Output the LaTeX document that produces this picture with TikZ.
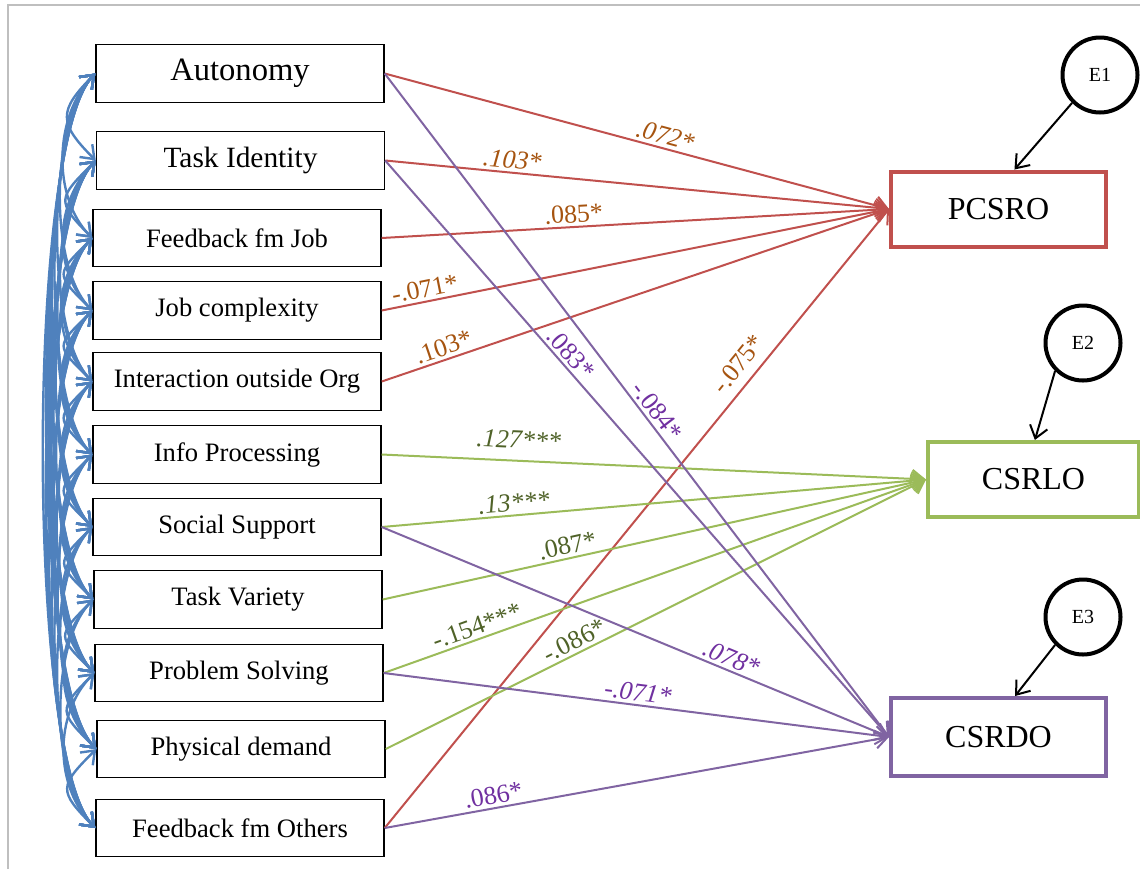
\documentclass[tikz,border=0pt]{standalone}
\usepackage{fontspec}
\setmainfont{Liberation Serif}
\usetikzlibrary{arrows.meta, positioning}
\definecolor{pathred}{RGB}{192, 80, 77}
\definecolor{pathgreen}{RGB}{155, 187, 89}
\definecolor{pathpurple}{RGB}{128, 100, 162}
\definecolor{covblue}{RGB}{79, 129, 189}
\definecolor{labred}{RGB}{166, 84, 16}
\definecolor{labgreen}{RGB}{79, 98, 40}
\definecolor{labpurple}{RGB}{112, 48, 160}
\definecolor{framegray}{RGB}{191, 191, 191}

\begin{document}
\begin{tikzpicture}[x=0.5pt, y=0.5pt,
    var/.style={draw, line width=0.7pt, minimum width=144pt, minimum height=28.75pt, inner sep=0pt, font=\fontsize{13.3}{16}\selectfont},
    dv/.style={draw, line width=2pt, minimum width=105.5pt, minimum height=37.5pt, inner sep=0pt, font=\fontsize{16}{19}\selectfont},
    err/.style={draw, circle, line width=2pt, minimum size=37.5pt, inner sep=0pt, font=\fontsize{10}{12}\selectfont},
    barb/.style={-{Straight Barb[length=6pt, width=9pt]}},
    redpath/.style={barb, draw=pathred, line width=1pt},
    greenpath/.style={barb, draw=pathgreen, line width=1pt},
    purplepath/.style={barb, draw=pathpurple, line width=1pt},
    cov/.style={{Straight Barb[length=6pt, width=9pt]}-{Straight Barb[length=6pt, width=9pt]}, draw=covblue, line width=1.2pt},
    lab/.style={sloped, above, inner sep=1.5pt, font=\fontsize{13}{15}\selectfont},
    labit/.style={lab, font=\fontsize{13}{15}\selectfont\itshape}]

    \useasboundingbox (0,0) rectangle (1140,-869);

    % Frame
    \draw[framegray, line width=1pt] (8,-869) -- (8,-5) -- (1140,-5);

    % Job characteristics
    \node[var, font=\fontsize{16.3}{19}\selectfont] (v1) at (240,-73.5) {Autonomy};
    \node[var, font=\fontsize{14.7}{17}\selectfont] (v2) at (240.5,-160.5) {Task Identity};
    \node[var] (v3) at (237,-238) {Feedback fm Job};
    \node[var] (v4) at (237,-310.5) {Job complexity};
    \node[var] (v5) at (237,-381.5) {Interaction outside Org};
    \node[var] (v6) at (237,-454.5) {Info Processing};
    \node[var] (v7) at (237,-527) {Social Support};
    \node[var] (v8) at (238,-599.5) {Task Variety};
    \node[var] (v9) at (239,-673) {Problem Solving};
    \node[var] (v10) at (241,-749) {Physical demand};
    \node[var] (v11) at (240,-828) {Feedback fm Others};

    % Outcomes
    \node[dv, draw=pathred, minimum width=107.5pt] (PCSRO) at (998.5,-209) {PCSRO};
    \node[dv, draw=pathgreen] (CSRLO) at (1033.5,-479.5) {CSRLO};
    \node[dv, draw=pathpurple, minimum width=107.5pt, minimum height=39pt] (CSRDO) at (998.5,-737) {CSRDO};

    % Error terms
    \node[err] (E1) at (1100,-75) {E1};
    \node[err] (E2) at (1083,-343) {E2};
    \node[err] (E3) at (1083,-617) {E3};
    \draw[barb, line width=1pt] (E1.225) -- (PCSRO.68);
    \draw[barb, line width=1pt] (E2.225) -- (CSRLO.88);
    \draw[barb, line width=1pt] (E3.225) -- (CSRDO.68);

    % Covariances
    \foreach \i in {1,...,10} {
        \pgfmathtruncatemacro\nxt{\i+1}
        \foreach \j in {\nxt,...,11} {
            \pgfmathsetmacro\dist{24+2.5*(\j-\i)}
            \draw[cov] (v\i.west) to[out=225, in=135, distance=\dist pt] (v\j.west);
        }
    }

    % Paths to PCSRO
    \draw[redpath] (v1.east) -- node[labit, pos=.55, text=labred] {.072*} (PCSRO.west);
    \draw[redpath] (v2.east) -- node[labit, pos=.25, text=labred] {.103*} (PCSRO.west);
    \draw[redpath] (v3.east) -- node[lab, pos=.38, text=labred] {.085*} (PCSRO.west);
    \draw[redpath] (v4.east) -- node[lab, pos=.09, text=labred] {-.071*} (PCSRO.west);
    \draw[redpath] (v5.east) -- node[lab, pos=.13, text=labred] {.103*} (PCSRO.west);
    \draw[redpath] (v11.east) -- node[lab, pos=.73, text=labred, above=3pt] {-.075*} (PCSRO.west);

    % Paths to CSRLO
    \draw[greenpath] (v6.east) -- node[labit, pos=.25, text=labgreen, above=4pt] {.127***} (CSRLO.west);
    \draw[greenpath] (v7.east) -- node[labit, pos=.245, text=labgreen] {.13***} (CSRLO.west);
    \draw[greenpath] (v8.east) -- node[lab, pos=.345, text=labgreen] {.087*} (CSRLO.west);
    \draw[greenpath] (v9.east) -- node[lab, pos=.18, text=labgreen] {-.154***} (CSRLO.west);
    \draw[greenpath] (v10.east) -- node[lab, pos=.36, text=labgreen] {-.086*} (CSRLO.west);

    % Paths to CSRDO
    \draw[purplepath] (v1.east) -- node[lab, pos=.52, text=labpurple] {-.084*} (CSRDO.west);
    \draw[purplepath] (v2.east) -- node[lab, pos=.35, text=labpurple] {.083*} (CSRDO.west);
    \draw[purplepath] (v7.east) -- node[labit, pos=.68, text=labpurple] {.078*} (CSRDO.west);
    \draw[purplepath] (v9.east) -- node[labit, pos=.5, text=labpurple] {-.071*} (CSRDO.west);
    \draw[purplepath] (v11.east) -- node[lab, pos=.22, text=labpurple] {.086*} (CSRDO.west);
\end{tikzpicture}
\end{document}
